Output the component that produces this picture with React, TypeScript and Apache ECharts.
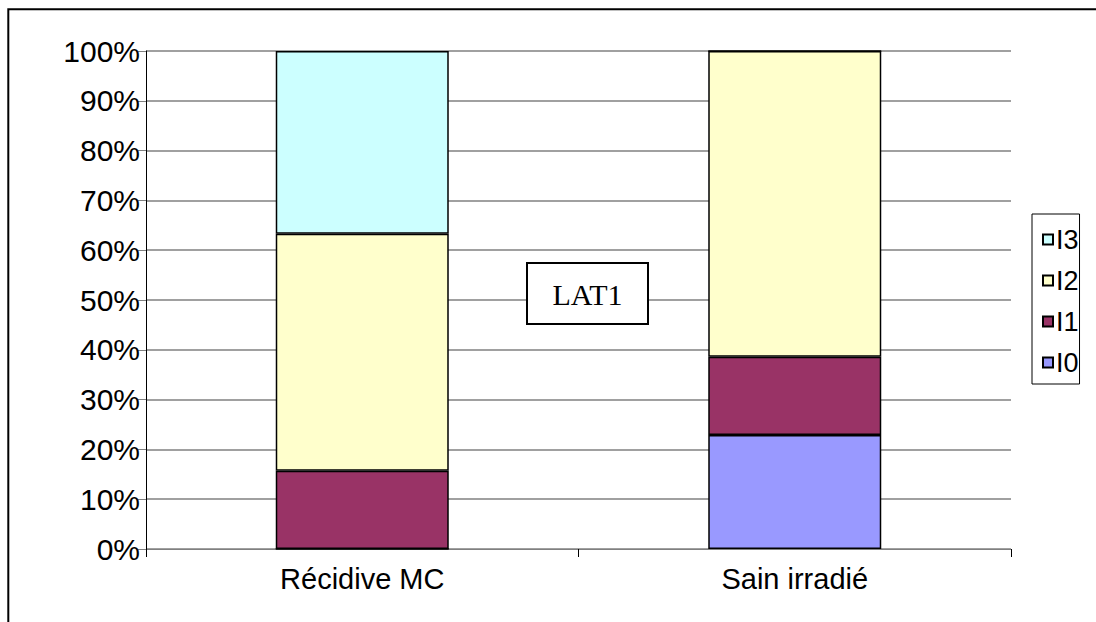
import React, { useEffect, useRef } from "react";
import * as echarts from "echarts";

const categories = ["Récidive MC", "Sain irradié"];
const seriesNames = ["I0", "I1", "I2", "I3"];
const valuesI0 = [0, 22.9];
const valuesI1 = [15.7, 15.7];
const valuesI2 = [47.6, 61.4];
const valuesI3 = [36.7, 0];
const seriesColors = ["#9999FF", "#993366", "#FFFFCC", "#CCFFFF"];
const legendOrder = ["I3", "I2", "I1", "I0"];
const annotation = "LAT1";

const SANS = "'Liberation Sans Narrow', 'Arial Narrow', 'Liberation Sans', Arial, sans-serif";

export default function App() {
  const ref = useRef<HTMLDivElement>(null);
  useEffect(() => {
    if (!ref.current) return;
    const chart = echarts.init(ref.current, null, { renderer: "svg" });
    const allValues = [valuesI0, valuesI1, valuesI2, valuesI3];
    chart.setOption({
      animation: false,
      backgroundColor: "#ffffff",
      grid: { left: 146, right: 85, top: 51, bottom: 73, containLabel: false },
      legend: {
        data: legendOrder,
        orient: "vertical",
        left: 1032,
        top: 214,
        itemWidth: 10,
        itemHeight: 10,
        itemGap: 14,
        padding: [12, 1, 8, 10],
        borderColor: "#000",
        borderWidth: 1,
        icon: "rect",
        textStyle: { fontFamily: SANS, fontSize: 27, color: "#000", padding: [0, 0, 0, -2] },
        selectedMode: false,
      },
      xAxis: {
        type: "category",
        data: categories,
        axisLine: { lineStyle: { color: "#808080", width: 1 } },
        axisTick: { show: true, length: 8, lineStyle: { color: "#000" } },
        axisLabel: { fontFamily: SANS, fontSize: 29, color: "#000", margin: 15 },
      },
      yAxis: {
        type: "value",
        min: 0,
        max: 100,
        interval: 10,
        axisLine: { show: true, lineStyle: { color: "#000", width: 1 } },
        axisTick: { show: true, length: 8, lineStyle: { color: "#808080" } },
        axisLabel: { formatter: "{value}%", fontFamily: SANS, fontSize: 30, color: "#000", margin: 6 },
        splitLine: { show: true, lineStyle: { color: "#808080", width: 1.5 } },
      },
      series: seriesNames.map((name, i) => ({
        name,
        type: "bar",
        stack: "total",
        barWidth: "40%",
        data: allValues[i],
        itemStyle: { color: seriesColors[i], borderColor: "#000", borderWidth: 1.5 },
      })),
      graphic: [
        {
          type: "rect",
          shape: { x: 8.3, y: 9.3, width: 1300, height: 800 },
          style: { fill: "none", stroke: "#000", lineWidth: 2 },
          silent: true,
          z: 100,
        },
        {
          type: "rect",
          shape: { x: 527, y: 263, width: 121, height: 61 },
          style: { fill: "#fff", stroke: "#000", lineWidth: 2 },
          z: 100,
        },
        {
          type: "text",
          x: 587.5,
          y: 294,
          style: {
            text: annotation,
            fontFamily: "'Liberation Serif', 'Times New Roman', serif",
            fontSize: 30,
            fill: "#000",
            align: "center",
            verticalAlign: "middle",
          },
          z: 101,
        },
      ],
    });
    return () => chart.dispose();
  }, []);
  return (
    <div
      ref={ref}
      style={{ position: "fixed", left: 0, top: 0, width: 1096, height: 622, background: "#fff" }}
    />
  );
}
